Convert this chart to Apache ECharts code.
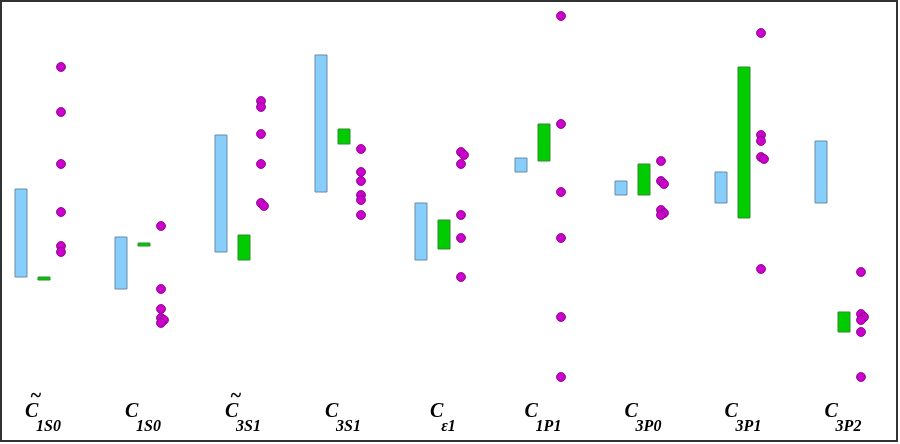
<!DOCTYPE html>
<html>
<head>
    <meta charset="utf-8">
    <title>Coupling ranges</title>
    <script src="https://cdn.jsdelivr.net/npm/echarts@6/dist/echarts.min.js"></script>
    <style>
        body { margin: 0; background: #fff; overflow: hidden; }
    </style>
</head>
<body>
    <!-- chart is 6px wider and pulled left so the category bands line up with the picture -->
    <div id="chart" style="width: 906px; height: 444px; margin-left: -6px;"></div>

    <script>
    // category names: "_" separates the subscript, U+0303 marks a tilde over C
    const categories = ['C\u0303_1S0', 'C_1S0', 'C\u0303_3S1', 'C_3S1', 'C_ε1', 'C_1P1', 'C_3P0', 'C_3P1', 'C_3P2'];

    // light blue ranges (low, high), arbitrary units
    const blueLow  = [113, 101, 138, 198, 130, 218, 195, 187, 187];
    const blueHigh = [201, 153, 255, 335, 187, 232, 209, 218, 249];

    // green ranges
    const greenLow  = [110, 144, 130, 246, 141, 229, 195, 172, 58];
    const greenHigh = [113, 147, 155, 261, 170, 266, 226, 323, 78];

    // magenta points, six per category
    const dots = [
        [323, 278, 226, 178, 144, 138],
        [164, 101, 81, 72, 70, 67],
        [289, 283, 256, 226, 187, 184],
        [241, 218, 209, 195, 190, 175],
        [238, 235, 226, 175, 152, 113],
        [374, 266, 198, 152, 73, 13],
        [229, 209, 206, 180, 177, 175],
        [357, 255, 249, 233, 231, 121],
        [118, 76, 73, 70, 58, 13]
    ];

    const chart = echarts.init(document.getElementById('chart'));

    function rangeItem(fill, stroke, offset) {
        return function (params, api) {
            const i = api.value(0);
            const lo = api.coord([i, api.value(1)]);
            const hi = api.coord([i, api.value(2)]);
            return {
                type: 'rect',
                shape: { x: lo[0] + offset - 6, y: hi[1], width: 12, height: Math.max(lo[1] - hi[1], 2) },
                style: { fill: fill, stroke: stroke, lineWidth: 1 }
            };
        };
    }

    const blueData = categories.map((c, i) => [i, blueLow[i], blueHigh[i]]);
    const greenData = categories.map((c, i) => [i, greenLow[i], greenHigh[i]]);

    // nudge a point sideways when it sits right on top of the previous one
    const dotData = [];
    dots.forEach((list, i) => {
        let prev = null, shifted = false;
        list.forEach(v => {
            let dx = 0;
            if (prev !== null && Math.abs(prev - v) < 5 && !shifted) {
                dx = 3; shifted = true;
            } else {
                shifted = false;
            }
            dotData.push({ value: [i, v], symbolOffset: [17 + dx, 0] });
            prev = v;
        });
    });

    const font = { fontFamily: 'Liberation Serif', fontWeight: 'bold', fontStyle: 'italic', color: '#000' };

    const option = {
        animation: false,
        grid: { left: 0, right: 6, top: 0, bottom: 64 },
        xAxis: {
            type: 'category',
            data: categories,
            axisLine: { show: false },
            axisTick: { show: false },
            splitLine: { show: false },
            axisLabel: {
                interval: 0,
                margin: 12,
                formatter: function (name) {
                    const tilde = name.indexOf('\u0303') >= 0;
                    const sub = name.split('_')[1];
                    return (tilde ? '{t|~}' : '{t| }') + '\n{c|C}{s|' + sub + '}';
                },
                rich: {
                    t: Object.assign({ fontSize: 20, lineHeight: 10, align: 'left', padding: [0, 0, 0, 3] }, font),
                    c: Object.assign({ fontSize: 20, lineHeight: 20, width: 9, verticalAlign: 'top' }, font),
                    s: Object.assign({ fontSize: 16, lineHeight: 33, verticalAlign: 'bottom' }, font)
                }
            }
        },
        yAxis: {
            type: 'value',
            min: 10,
            max: 390,
            show: false
        },
        graphic: [{
            type: 'rect',
            shape: { x: 7, y: 1, width: 896, height: 440 },
            style: { fill: 'none', stroke: '#333', lineWidth: 2 },
            silent: true
        }],
        series: [
            {
                name: 'blue',
                type: 'custom',
                renderItem: rangeItem('#87CEFA', '#6b8aa6', -23),
                encode: { x: 0, y: [1, 2] },
                data: blueData
            },
            {
                name: 'green',
                type: 'custom',
                renderItem: rangeItem('#00CC00', '#2e8b2e', 0),
                encode: { x: 0, y: [1, 2] },
                data: greenData
            },
            {
                name: 'points',
                type: 'scatter',
                symbolSize: 9,
                itemStyle: { color: '#CC00CC', borderColor: '#7a007a', borderWidth: 0.8, opacity: 1 },
                data: dotData
            }
        ]
    };

    chart.setOption(option);
    </script>
</body>
</html>
